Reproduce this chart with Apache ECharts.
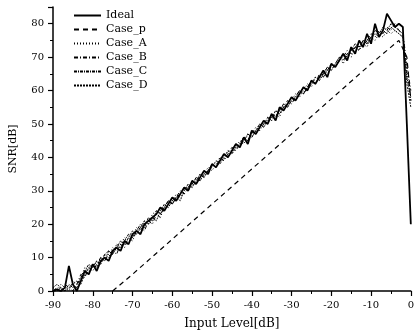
<!DOCTYPE html>
<html><head><meta charset="utf-8">
<script src="https://cdn.jsdelivr.net/npm/echarts@6/dist/echarts.min.js"></script>
<style>html,body{margin:0;padding:0;background:#fff}#c{width:417px;height:335px}</style>
</head><body><div id="c"></div>
<script>
var inputLevel = [-90,-89,-88,-87,-86,-85,-84,-83,-82,-81,-80,-79,-78,-77,-76,-75,-74,-73,-72,-71,-70,-69,-68,-67,-66,-65,-64,-63,-62,-61,-60,-59,-58,-57,-56,-55,-54,-53,-52,-51,-50,-49,-48,-47,-46,-45,-44,-43,-42,-41,-40,-39,-38,-37,-36,-35,-34,-33,-32,-31,-30,-29,-28,-27,-26,-25,-24,-23,-22,-21,-20,-19,-18,-17,-16,-15,-14,-13,-12,-11,-10,-9,-8,-7,-6,-5,-4,-3,-2,-1,0];
var ideal = [0,0.5,0,1,7.5,2,0,3,6,5,8,6,9,10,9,12,13,12,15,14,17,18,17,20,21,22,23,25,24,26,28,27,29,31,30,33,32,34,36,35,38,37,39,41,40,42,44,43,46,44,48,47,49,51,50,53,51,55,54,56,58,57,59,61,60,63,62,64,66,64,68,67,69,71,69,73,71,75,73,77,74,80,76,78,83,81,79,80,79,50,20];
var caseA = [1,0,2,1,0,3,2,4,7,6,7,9,8,11,10,13,12,14,16,15,16,19,18,21,20,23,24,23,26,25,27,29,28,30,32,31,34,33,35,37,36,38,40,39,42,41,43,45,44,47,46,48,50,49,52,51,53,52,56,55,57,59,58,60,62,61,64,63,65,67,66,68,70,68,71,70,73,72,74,73,76,75,77,76,78,77,78,77,76,66,57];
var caseB = [0,1,0,2,1,0,2,5,4,7,6,8,10,9,11,12,11,14,13,16,15,18,19,18,21,20,23,22,25,27,26,28,30,29,31,33,32,35,34,36,38,37,40,39,41,43,42,44,46,45,47,49,48,50,52,51,54,53,55,57,56,58,60,59,61,63,62,65,64,66,68,67,69,70,72,71,73,74,73,75,77,76,78,77,79,78,80,78,77,68,60];
var caseC = [0,0,1,0,2,1,1,4,6,8,7,9,8,11,12,11,14,13,15,17,16,18,20,19,22,21,24,23,25,27,26,28,29,31,30,32,34,33,35,36,38,37,39,41,40,42,44,43,45,47,46,48,50,49,51,53,52,54,56,55,57,58,60,59,61,63,62,64,65,67,66,68,70,69,71,72,74,73,75,74,76,78,77,79,78,80,79,78,77,64,58];
var caseD = [1,2,1,0,1,2,3,2,5,7,8,7,10,9,12,11,13,15,14,16,18,17,19,21,20,22,21,24,26,25,27,28,27,30,32,31,33,35,34,36,37,39,38,40,42,41,43,44,46,45,48,47,49,51,50,52,54,53,55,56,58,57,59,61,60,62,64,63,65,66,68,67,69,71,70,72,73,72,75,74,76,77,76,78,77,79,78,77,76,62,55];
var casePLevel = [-75,-70,-60,-50,-40,-30,-20,-10,-5,-3,-1,0];
var caseP = [0,5,15.5,26,36.5,47,57.5,68,73,75,70,57];
var seriesNames = ['Ideal','Case_p','Case_A','Case_B','Case_C','Case_D'];

function zip(xs, ys){ return xs.map(function(x,i){ return [x, ys[i]]; }); }
var font = 'DejaVu Serif';
var styles = [
  {width:1.8, type:'solid'},
  {width:1.2, type:[5,4]},
  {width:1, type:[1,2]},
  {width:1, type:[4,2,1,2]},
  {width:1, type:[3,1,1,1]},
  {width:0.9, type:[2,1]}
];
var datas = [zip(inputLevel, ideal), zip(casePLevel, caseP), zip(inputLevel, caseA), zip(inputLevel, caseB), zip(inputLevel, caseC), zip(inputLevel, caseD)];
var series = seriesNames.map(function(n, k){
  return {name: n, type:'line', data: datas[k], symbol:'none', showSymbol:false, animation:false,
    lineStyle:{color:'#000', width: styles[k].width, type: styles[k].type}, itemStyle:{color:'#000'}, z: k===0?5:3};
});
var chart = echarts.init(document.getElementById('c'), null, {renderer:'canvas'});
chart.setOption({
  backgroundColor:'#fff',
  animation:false,
  grid:{left:52, right:5, top:7, bottom:44},
  legend:{show:true, orient:'vertical', left:68, top:5, itemWidth:27, itemHeight:10, itemGap:3,
    itemStyle:{opacity:0},
    textStyle:{fontFamily:font, fontSize:11, color:'#000'}},
  xAxis:{type:'value', min:-90, max:0, interval:10,
    name:'Input Level[dB]', nameLocation:'middle', nameGap:27, nameTextStyle:{fontFamily:font, fontSize:12, color:'#000'},
    axisLine:{onZero:false, lineStyle:{color:'#000', width:1.5}},
    axisTick:{length:5, lineStyle:{color:'#000', width:1.2}},
    minorTick:{show:true, splitNumber:2, length:3, lineStyle:{color:'#000', width:1}},
    splitLine:{show:false},
    axisLabel:{fontFamily:font, fontSize:10, color:'#000', margin:9}},
  yAxis:{type:'value', min:0, max:85, interval:10,
    name:'SNR[dB]', nameLocation:'middle', nameGap:34, nameTextStyle:{fontFamily:font, fontSize:11, color:'#000'},
    axisLine:{onZero:false, lineStyle:{color:'#000', width:1.5}},
    axisTick:{length:5, lineStyle:{color:'#000', width:1.2}},
    minorTick:{show:true, splitNumber:2, length:3, lineStyle:{color:'#000', width:1}},
    splitLine:{show:false},
    axisLabel:{fontFamily:font, fontSize:10, color:'#000', margin:9, showMaxLabel:false}},
  series: series
});
</script></body></html>
